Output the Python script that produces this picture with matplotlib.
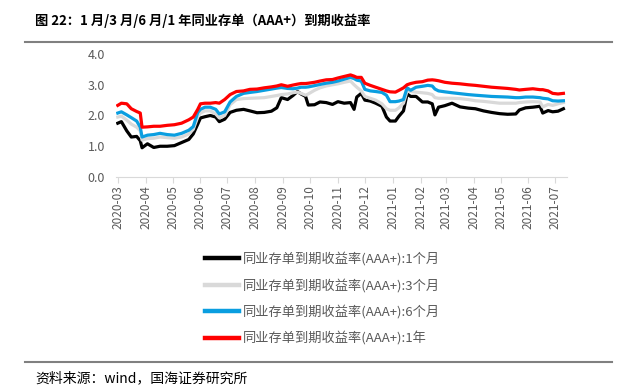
import pandas as pd
import matplotlib.pyplot as plt
import matplotlib.dates as mdates

plt.rcParams['font.family'] = ['Noto Sans CJK SC', 'DejaVu Sans']

fechas = pd.to_datetime([
    '2020-03-01', '2020-03-05', '2020-03-11', '2020-03-16', '2020-03-22', '2020-03-26',
    '2020-03-28', '2020-04-03', '2020-04-10', '2020-04-17', '2020-04-25', '2020-05-03',
    '2020-05-11', '2020-05-19', '2020-05-24', '2020-05-29', '2020-06-01', '2020-06-06',
    '2020-06-12', '2020-06-18', '2020-06-22', '2020-06-28', '2020-07-04', '2020-07-11',
    '2020-07-19', '2020-07-26', '2020-08-03', '2020-08-11', '2020-08-19', '2020-08-25',
    '2020-08-30', '2020-09-06', '2020-09-12', '2020-09-17', '2020-09-21', '2020-09-26',
    '2020-09-29', '2020-10-06', '2020-10-12', '2020-10-19', '2020-10-26', '2020-11-01',
    '2020-11-08', '2020-11-15', '2020-11-19', '2020-11-22', '2020-11-27', '2020-12-01',
    '2020-12-07', '2020-12-13', '2020-12-20', '2020-12-25', '2020-12-29', '2021-01-04',
    '2021-01-08', '2021-01-13', '2021-01-17', '2021-01-21', '2021-01-27', '2021-02-03',
    '2021-02-09', '2021-02-14', '2021-02-17', '2021-02-21', '2021-02-28', '2021-03-08',
    '2021-03-17', '2021-03-26', '2021-04-03', '2021-04-12', '2021-04-21', '2021-04-30',
    '2021-05-09', '2021-05-18', '2021-05-22', '2021-05-29', '2021-06-06', '2021-06-14',
    '2021-06-17', '2021-06-23', '2021-06-28', '2021-07-04', '2021-07-10'])

m1 = [1.75, 1.80, 1.50, 1.30, 1.32, 1.18, 0.95, 1.08, 0.96, 1.00, 1.00, 1.02,
      1.12, 1.22, 1.40, 1.72, 1.92, 1.96, 2.00, 1.95, 1.80, 1.88, 2.10, 2.17,
      2.20, 2.15, 2.09, 2.10, 2.14, 2.25, 2.58, 2.52, 2.65, 2.78, 2.70, 2.62,
      2.34, 2.35, 2.44, 2.42, 2.36, 2.45, 2.40, 2.42, 2.20, 2.60, 2.72, 2.50,
      2.47, 2.40, 2.30, 1.95, 1.82, 1.82, 1.98, 2.15, 2.70, 2.62, 2.62, 2.44,
      2.44, 2.38, 2.02, 2.27, 2.32, 2.40, 2.28, 2.24, 2.22, 2.15, 2.10, 2.06,
      2.04, 2.05, 2.18, 2.25, 2.27, 2.30, 2.08, 2.16, 2.12, 2.14, 2.22]

m3 = [1.95, 1.98, 1.85, 1.72, 1.62, 1.50, 1.20, 1.25, 1.26, 1.30, 1.28, 1.26,
      1.30, 1.40, 1.55, 1.95, 2.08, 2.15, 2.15, 2.05, 1.92, 2.00, 2.35, 2.52,
      2.55, 2.56, 2.57, 2.58, 2.62, 2.65, 2.68, 2.70, 2.74, 2.76, 2.72, 2.66,
      2.70, 2.82, 2.90, 2.96, 3.00, 3.03, 3.08, 3.12, 3.00, 2.92, 2.80, 2.62,
      2.56, 2.50, 2.38, 2.22, 2.17, 2.17, 2.25, 2.40, 2.80, 2.78, 2.76, 2.74,
      2.72, 2.68, 2.58, 2.56, 2.56, 2.56, 2.55, 2.52, 2.48, 2.46, 2.43, 2.40,
      2.40, 2.40, 2.42, 2.44, 2.45, 2.44, 2.28, 2.36, 2.33, 2.38, 2.42]

m6 = [2.08, 2.12, 2.02, 1.93, 1.82, 1.62, 1.30, 1.36, 1.38, 1.42, 1.38, 1.36,
      1.42, 1.52, 1.64, 2.10, 2.20, 2.27, 2.27, 2.20, 2.05, 2.12, 2.44, 2.62,
      2.72, 2.75, 2.78, 2.82, 2.86, 2.89, 2.91, 2.88, 2.87, 2.89, 2.92, 2.92,
      2.93, 2.97, 3.01, 3.05, 3.08, 3.12, 3.18, 3.24, 3.20, 3.15, 3.12, 2.85,
      2.80, 2.78, 2.75, 2.66, 2.45, 2.45, 2.47, 2.52, 2.90, 2.82, 2.92, 2.95,
      2.98, 2.96, 2.86, 2.80, 2.77, 2.74, 2.71, 2.68, 2.66, 2.64, 2.62, 2.61,
      2.60, 2.58, 2.58, 2.60, 2.60, 2.58, 2.56, 2.54, 2.48, 2.47, 2.48]

y1 = [2.33, 2.40, 2.38, 2.22, 2.13, 2.08, 1.62, 1.63, 1.65, 1.65, 1.68, 1.70,
      1.75, 1.86, 1.95, 2.20, 2.38, 2.40, 2.40, 2.42, 2.40, 2.52, 2.68, 2.78,
      2.80, 2.85, 2.86, 2.90, 2.93, 2.96, 3.00, 2.95, 2.99, 3.02, 3.04, 3.04,
      3.05, 3.08, 3.12, 3.16, 3.17, 3.22, 3.27, 3.32, 3.28, 3.24, 3.24, 3.05,
      2.98, 2.92, 2.85, 2.80, 2.77, 2.76, 2.82, 2.90, 3.00, 3.04, 3.08, 3.10,
      3.15, 3.16, 3.15, 3.13, 3.08, 3.05, 3.03, 3.00, 2.98, 2.95, 2.92, 2.90,
      2.88, 2.85, 2.83, 2.85, 2.87, 2.84, 2.84, 2.80, 2.72, 2.70, 2.72]

etiquetas = ['同业存单到期收益率(AAA+):1个月', '同业存单到期收益率(AAA+):3个月',
             '同业存单到期收益率(AAA+):6个月', '同业存单到期收益率(AAA+):1年']
colores = ['#000000', '#d9d9d9', '#0a9ee0', '#ff0000']

fig = plt.figure(figsize=(6.41, 3.92), dpi=100)
ax = fig.add_axes([116/641, 1 - 177/392, (567 - 116)/641, (177 - 54)/392])

for serie, lab, col in zip([m1, m3, m6, y1], etiquetas, colores):
    ax.plot(fechas, serie, color=col, lw=2.3, label=lab)

ax.set_ylim(0, 4)
ax.set_yticks([0, 1, 2, 3, 4])
ax.set_yticklabels(['0.0', '1.0', '2.0', '3.0', '4.0'])
ax.set_xlim(pd.Timestamp('2020-02-28'), pd.Timestamp('2021-07-14'))
ax.xaxis.set_major_locator(mdates.MonthLocator())
ax.xaxis.set_major_formatter(mdates.DateFormatter('%Y-%m'))
for s in ['top', 'right', 'left']:
    ax.spines[s].set_visible(False)
ax.spines['bottom'].set_color('#d9d9d9')
ax.tick_params(axis='y', length=0, labelsize=9, colors='#595959', pad=8)
ax.tick_params(axis='x', length=4, color='#d9d9d9', labelsize=8.5,
               labelcolor='#595959', rotation=90, pad=2)

leg = fig.legend(loc='upper left', bbox_to_anchor=(193/641, 1 - 240/392),
                 frameon=False, fontsize=9.5, labelspacing=0.95,
                 handlelength=2.6, handletextpad=0.3)
for t in leg.get_texts():
    t.set_color('#595959')
for l in leg.get_lines():
    l.set_linewidth(3.2)

fig.text(35/641, 1 - 21/392, '图 22：1 月/3 月/6 月/1 年同业存单（AAA+）到期收益率',
         fontsize=9.5, fontweight='bold', va='center', ha='left')
fig.add_artist(plt.Line2D([25/641, 612/641], [1 - 42/392, 1 - 42/392],
                          color='#808080', lw=1.5))
fig.add_artist(plt.Line2D([25/641, 612/641], [1 - 362/392, 1 - 362/392],
                          color='#808080', lw=1.5))
fig.text(35/641, 1 - 378/392, '资料来源：wind，国海证券研究所',
         fontsize=10, va='center', ha='left')

fig.savefig('out.png', dpi=100)
